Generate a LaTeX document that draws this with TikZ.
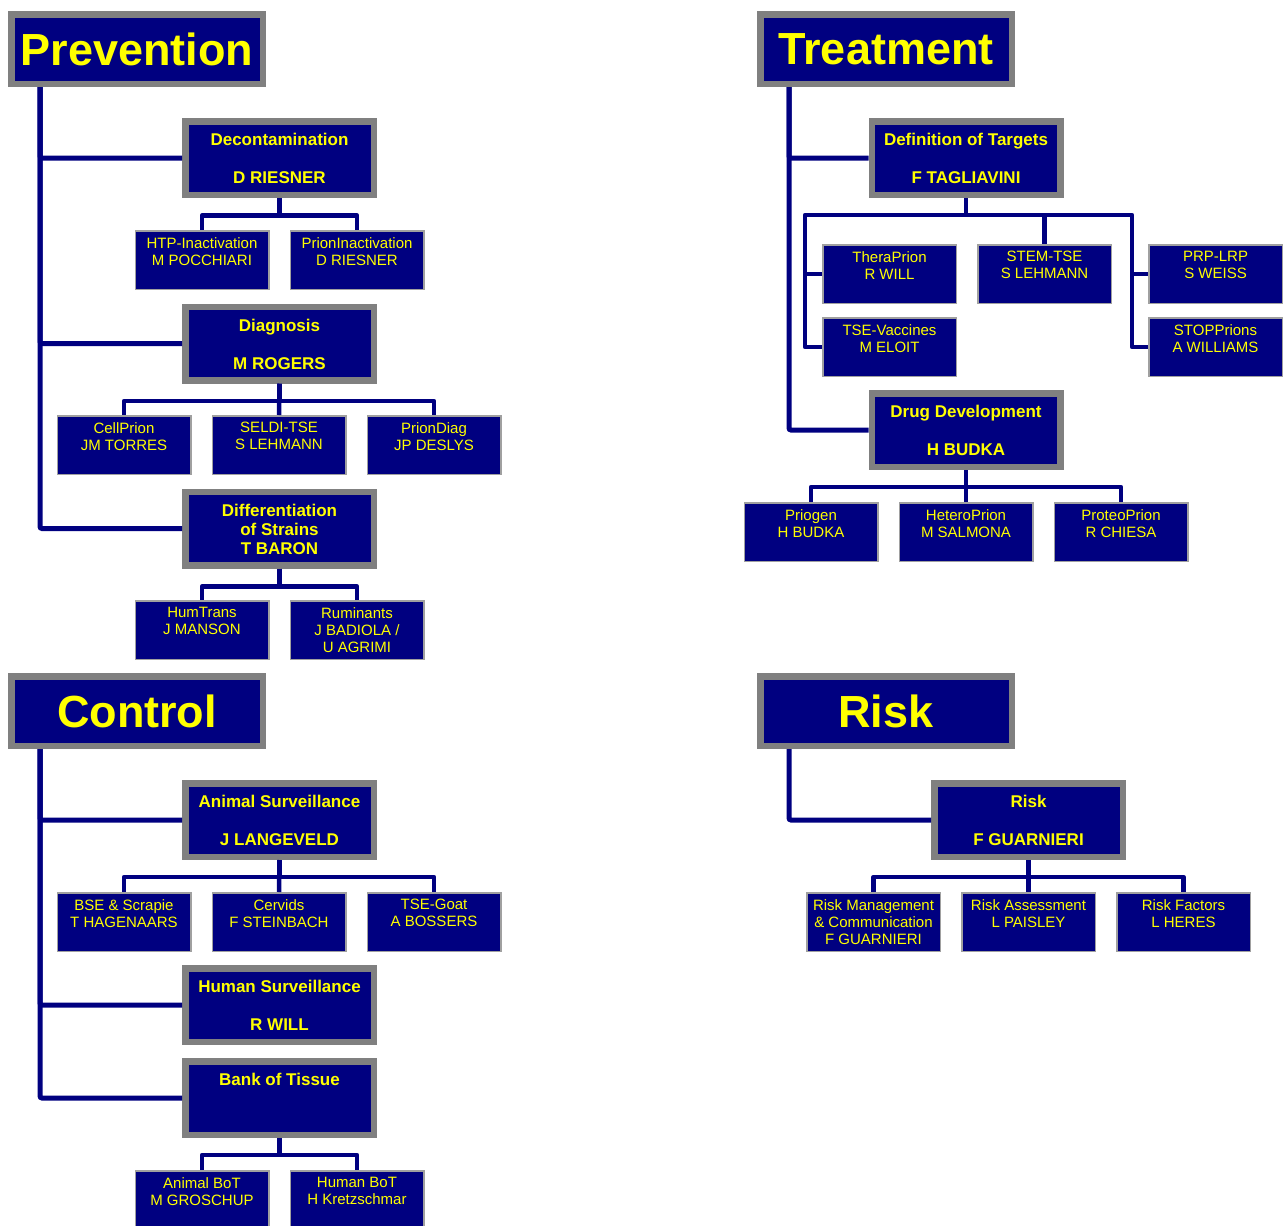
\documentclass[tikz,border=0pt]{standalone}
\usepackage{fontspec}
\setmainfont{Liberation Sans}
\usetikzlibrary{positioning}
\definecolor{navyblue}{HTML}{000080}
\definecolor{boxgray}{HTML}{808080}
\definecolor{edgegray}{HTML}{A0A0A0}
\definecolor{labelyellow}{HTML}{FFFF00}
\tikzset{
  title/.style={draw=boxgray, line width=6.5pt, fill=navyblue, minimum width=251.5pt, minimum height=69.5pt, inner sep=0pt, text=labelyellow, font=\fontsize{45}{50}\selectfont\bfseries},
  group/.style={draw=boxgray, line width=6.5pt, fill=navyblue, minimum width=188.5pt, minimum height=73.5pt},
  grouptext/.style={text=labelyellow, font=\fontsize{17}{19}\selectfont\bfseries, align=center, inner sep=0pt},
  project/.style={draw=edgegray, line width=1.5pt, fill=navyblue, minimum width=133.5pt, minimum height=58.5pt},
  projecttext/.style={text=labelyellow, font=\fontsize{15}{17}\selectfont, align=center, inner sep=0pt},
  trunk/.style={draw=navyblue, line width=5pt, rounded corners=2pt},
  bus/.style={draw=navyblue, line width=4.5pt, line join=round}
}
\begin{document}
\begin{tikzpicture}[x=1pt,y=-1pt]
\useasboundingbox (0,0) rectangle (1288,1226);
% Prevention
\node[title] (prevention) at (137,49) {Prevention};
\node[group] (decon) at (279.5,158) {};
\node[grouptext, below=15pt of decon.north] (decon-t) {Decontamination\\[19pt]D RIESNER};
\node[group] (diag) at (279.5,343.5) {};
\node[grouptext, below=15pt of diag.north] (diag-t) {Diagnosis\\[19pt]M ROGERS};
\node[group] (diff) at (279.5,528.5) {};
\node[grouptext, below=15pt of diff.north] (diff-t) {Differentiation\\of Strains\\T BARON};
\node[project] (htp) at (202,260) {};
\node[projecttext, below=7pt of htp.north] (htp-t) {HTP-Inactivation\\M POCCHIARI};
\node[project] (prioninact) at (357,260) {};
\node[projecttext, below=7pt of prioninact.north] (prioninact-t) {PrionInactivation\\D RIESNER};
\node[project] (cellprion) at (124,445) {};
\node[projecttext, below=7pt of cellprion.north] (cellprion-t) {CellPrion\\JM TORRES};
\node[project] (seldi) at (279,445) {};
\node[projecttext, below=7pt of seldi.north] (seldi-t) {SELDI-TSE\\S LEHMANN};
\node[project] (priondiag) at (434,445) {};
\node[projecttext, below=7pt of priondiag.north] (priondiag-t) {PrionDiag\\JP DESLYS};
\node[project] (humtrans) at (202,630) {};
\node[projecttext, below=7pt of humtrans.north] (humtrans-t) {HumTrans\\J MANSON};
\node[project] (ruminants) at (357,630) {};
\node[projecttext, below=7pt of ruminants.north] (ruminants-t) {Ruminants\\J BADIOLA /\\U AGRIMI};
\draw[trunk] ([xshift=32pt]prevention.south west) |- (decon.west);
\draw[trunk] ([xshift=32pt]prevention.south west) |- (diag.west);
\draw[trunk] ([xshift=32pt]prevention.south west) |- (diff.west);
\draw[bus] (decon.south) -- ++(0,17.5) -| (htp.north);
\draw[bus] (decon.south) -- ++(0,17.5) -| (prioninact.north);
\draw[bus] (diag.south) -- ++(0,17.5) -| (cellprion.north);
\draw[bus] (diag.south) -- (seldi.north);
\draw[bus] (diag.south) -- ++(0,17.5) -| (priondiag.north);
\draw[bus] (diff.south) -- ++(0,18) -| (humtrans.north);
\draw[bus] (diff.south) -- ++(0,18) -| (ruminants.north);
% Treatment
\node[title] (treatment) at (886,49) {Treatment};
\node[group] (targets) at (966,158) {};
\node[grouptext, below=15pt of targets.north] (targets-t) {Definition of Targets\\[19pt]F TAGLIAVINI};
\node[group] (drugdev) at (966,430) {};
\node[grouptext, below=15pt of drugdev.north] (drugdev-t) {Drug Development\\[19pt]H BUDKA};
\node[project] (theraprion) at (889.5,274) {};
\node[projecttext, below=7pt of theraprion.north] (theraprion-t) {TheraPrion\\R WILL};
\node[project] (stemtse) at (1044.5,274) {};
\node[projecttext, below=7pt of stemtse.north] (stemtse-t) {STEM-TSE\\S LEHMANN};
\node[project] (prplrp) at (1215.5,274) {};
\node[projecttext, below=7pt of prplrp.north] (prplrp-t) {PRP-LRP\\S WEISS};
\node[project] (tsevacc) at (889.5,347) {};
\node[projecttext, below=7pt of tsevacc.north] (tsevacc-t) {TSE-Vaccines\\M ELOIT};
\node[project] (stopprions) at (1215.5,347) {};
\node[projecttext, below=7pt of stopprions.north] (stopprions-t) {STOPPrions\\A WILLIAMS};
\node[project] (priogen) at (811,532) {};
\node[projecttext, below=7pt of priogen.north] (priogen-t) {Priogen\\H BUDKA};
\node[project] (heteroprion) at (966,532) {};
\node[projecttext, below=7pt of heteroprion.north] (heteroprion-t) {HeteroPrion\\M SALMONA};
\node[project] (proteoprion) at (1121,532) {};
\node[projecttext, below=7pt of proteoprion.north] (proteoprion-t) {ProteoPrion\\R CHIESA};
\draw[trunk] ([xshift=32pt]treatment.south west) |- (targets.west);
\draw[trunk] ([xshift=32pt]treatment.south west) |- (drugdev.west);
\draw[bus] (targets.south) -- ++(0,17) -| ([xshift=-17pt]tsevacc.west) -- (tsevacc.west);
\draw[bus] ([xshift=-17pt]theraprion.west) -- (theraprion.west);
\draw[bus] (targets.south) -- ++(0,17) -| (stemtse.north);
\draw[bus] (targets.south) -- ++(0,17) -| ([xshift=-16pt]stopprions.west) -- (stopprions.west);
\draw[bus] ([xshift=-16pt]prplrp.west) -- (prplrp.west);
\draw[bus] (drugdev.south) -- ++(0,17) -| (priogen.north);
\draw[bus] (drugdev.south) -- (heteroprion.north);
\draw[bus] (drugdev.south) -- ++(0,17) -| (proteoprion.north);
% Control
\node[title] (control) at (137,711) {Control};
\node[group] (anisurv) at (279.5,820) {};
\node[grouptext, below=15pt of anisurv.north] (anisurv-t) {Animal Surveillance\\[19pt]J LANGEVELD};
\node[group] (humsurv) at (279.5,1005) {};
\node[grouptext, below=15pt of humsurv.north] (humsurv-t) {Human Surveillance\\[19pt]R WILL};
\node[group] (bank) at (279.5,1098) {};
\node[grouptext, below=15pt of bank.north] (bank-t) {Bank of Tissue};
\node[project] (bse) at (124,922) {};
\node[projecttext, below=7pt of bse.north] (bse-t) {BSE \& Scrapie\\T HAGENAARS};
\node[project] (cervids) at (279,922) {};
\node[projecttext, below=7pt of cervids.north] (cervids-t) {Cervids\\F STEINBACH};
\node[project] (tsegoat) at (434,922) {};
\node[projecttext, below=7pt of tsegoat.north] (tsegoat-t) {TSE-Goat\\A BOSSERS};
\node[project] (anibot) at (202,1200) {};
\node[projecttext, below=7pt of anibot.north] (anibot-t) {Animal BoT\\M GROSCHUP};
\node[project] (humbot) at (357,1200) {};
\node[projecttext, below=7pt of humbot.north] (humbot-t) {Human BoT\\H Kretzschmar};
\draw[trunk] ([xshift=32pt]control.south west) |- (anisurv.west);
\draw[trunk] ([xshift=32pt]control.south west) |- (humsurv.west);
\draw[trunk] ([xshift=32pt]control.south west) |- (bank.west);
\draw[bus] (anisurv.south) -- ++(0,17) -| (bse.north);
\draw[bus] (anisurv.south) -- (cervids.north);
\draw[bus] (anisurv.south) -- ++(0,17) -| (tsegoat.north);
\draw[bus] (bank.south) -- ++(0,17) -| (anibot.north);
\draw[bus] (bank.south) -- ++(0,17) -| (humbot.north);
% Risk
\node[title] (risk) at (886,711) {Risk};
\node[group] (riskgrp) at (1028.5,820) {};
\node[grouptext, below=15pt of riskgrp.north] (riskgrp-t) {Risk\\[19pt]F GUARNIERI};
\node[project] (riskman) at (873.5,922) {};
\node[projecttext, below=7pt of riskman.north] (riskman-t) {Risk Management\\\& Communication\\F GUARNIERI};
\node[project] (riskass) at (1028.5,922) {};
\node[projecttext, below=7pt of riskass.north] (riskass-t) {Risk Assessment\\L PAISLEY};
\node[project] (riskfac) at (1183.5,922) {};
\node[projecttext, below=7pt of riskfac.north] (riskfac-t) {Risk Factors\\L HERES};
\draw[trunk] ([xshift=32pt]risk.south west) |- (riskgrp.west);
\draw[bus] (riskgrp.south) -- ++(0,17) -| (riskman.north);
\draw[bus] (riskgrp.south) -- (riskass.north);
\draw[bus] (riskgrp.south) -- ++(0,17) -| (riskfac.north);
\end{tikzpicture}
\end{document}
